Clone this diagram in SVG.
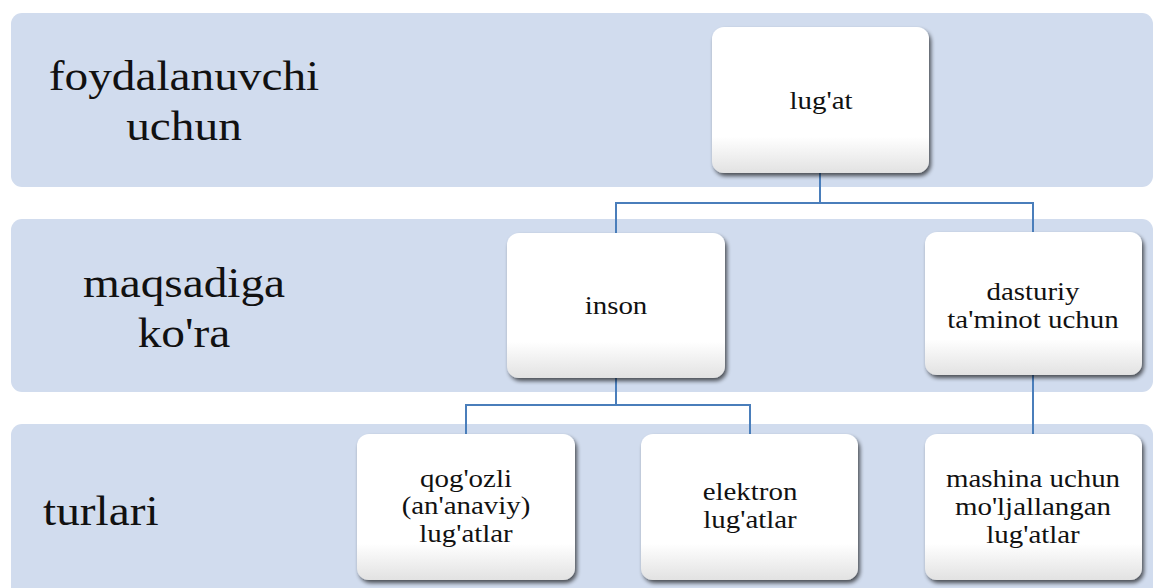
<svg xmlns="http://www.w3.org/2000/svg" width="1154" height="588" viewBox="0 0 1154 588">
<style>
.band{fill:#d1dcee}
.lbl{font-size:43px;fill:#111;text-anchor:middle}
.box{fill:url(#g);filter:url(#sh)}
.txt{font-size:24.5px;fill:#111;text-anchor:middle}
.conn{fill:none;stroke:#4a7ebb;stroke-width:2}
</style>
<defs>
<linearGradient id="g" x1="0" y1="0" x2="0" y2="1">
<stop offset="0" stop-color="#ffffff"/>
<stop offset="0.75" stop-color="#ffffff"/>
<stop offset="1" stop-color="#e2e2e2"/>
</linearGradient>
<filter id="sh" x="-10%" y="-10%" width="125%" height="130%">
<feGaussianBlur in="SourceAlpha" stdDeviation="2"/>
<feOffset dx="2" dy="3" result="b"/>
<feComponentTransfer><feFuncA type="linear" slope="0.65"/></feComponentTransfer>
<feMerge><feMergeNode/><feMergeNode in="SourceGraphic"/></feMerge>
</filter>
</defs>
<g id="bands">
<rect class="band" x="11" y="13" width="1142" height="174" rx="11"/>
<rect class="band" x="11" y="219" width="1142" height="173" rx="11"/>
<rect class="band" x="11" y="424" width="1142" height="190" rx="11"/>
</g>
<g id="labels" font-family="'Liberation Serif', 'Times New Roman', Tinos, 'Noto Serif', 'DejaVu Serif', FreeSerif, serif">
<text class="lbl" transform="translate(184 90) scale(1.1 1)">foydalanuvchi</text>
<text class="lbl" transform="translate(184 140) scale(1.1 1)">uchun</text>
<text class="lbl" transform="translate(184 297) scale(1.1 1)">maqsadiga</text>
<text class="lbl" transform="translate(184 347) scale(1.1 1)">ko'ra</text>
<text class="lbl" transform="translate(43 525) scale(1.1 1)" text-anchor="start" style="text-anchor:start">turlari</text>
</g>
<g id="connectors">
<path class="conn" d="M820 173V203M616 233V203H1033V232"/>
<path class="conn" d="M616 378V405M466 434V405H750V434"/>
<path class="conn" d="M1033 375V434"/>
</g>
<g id="nodes" font-family="'Liberation Serif', 'Times New Roman', Tinos, 'Noto Serif', 'DejaVu Serif', FreeSerif, serif">
<g id="n-lugat">
<rect class="box" x="712" y="27" width="217" height="146" rx="12"/>
<text class="txt" transform="translate(821 109) scale(1.18 1)">lug'at</text>
</g>
<g id="n-inson">
<rect class="box" x="507" y="233" width="218" height="145" rx="12"/>
<text class="txt" transform="translate(616 314) scale(1.18 1)">inson</text>
</g>
<g id="n-dasturiy">
<rect class="box" x="925" y="232" width="217" height="143" rx="12"/>
<text class="txt" transform="translate(1033 300) scale(1.18 1)">dasturiy</text>
<text class="txt" transform="translate(1033 328) scale(1.18 1)">ta'minot uchun</text>
</g>
<g id="n-qogozli">
<rect class="box" x="357" y="434" width="218" height="146" rx="12"/>
<text class="txt" transform="translate(466 487) scale(1.18 1)">qog'ozli</text>
<text class="txt" transform="translate(466 514) scale(1.18 1)">(an'anaviy)</text>
<text class="txt" transform="translate(466 542) scale(1.18 1)">lug'atlar</text>
</g>
<g id="n-elektron">
<rect class="box" x="641" y="434" width="217" height="146" rx="12"/>
<text class="txt" transform="translate(750 500) scale(1.18 1)">elektron</text>
<text class="txt" transform="translate(750 528) scale(1.18 1)">lug'atlar</text>
</g>
<g id="n-mashina">
<rect class="box" x="925" y="434" width="217" height="146" rx="12"/>
<text class="txt" transform="translate(1033 487) scale(1.18 1)">mashina uchun</text>
<text class="txt" transform="translate(1033 515) scale(1.18 1)">mo'ljallangan</text>
<text class="txt" transform="translate(1033 543) scale(1.18 1)">lug'atlar</text>
</g>
</g>
</svg>
